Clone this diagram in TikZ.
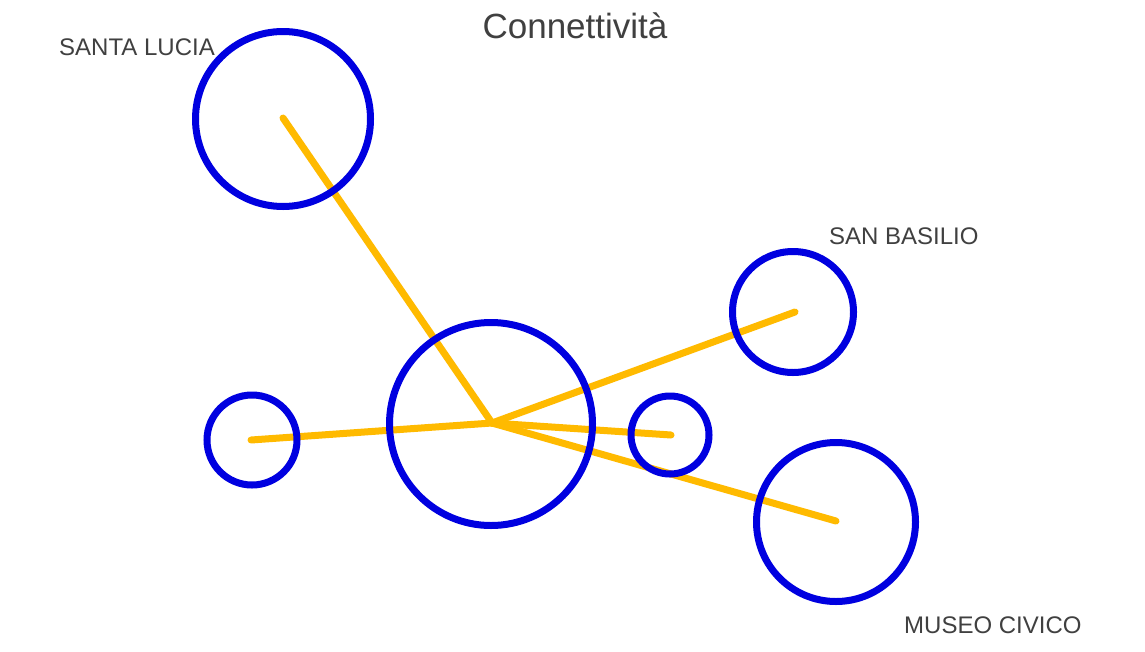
\documentclass[tikz,border=0pt]{standalone}
\usepackage{fontspec}
\setmainfont{Liberation Sans}
\definecolor{edgeor}{HTML}{FFBA00}
\definecolor{nodebl}{HTML}{0000E0}
\definecolor{txtgr}{HTML}{404040}
\begin{document}
\begin{tikzpicture}[x=1pt,y=-1pt,
  link/.style={draw=edgeor,line width=7pt,line cap=round},
  ring/.style={circle,draw=nodebl,line width=7pt,inner sep=0pt},
  lbl/.style={text=txtgr,font=\fontsize{24}{27}\selectfont,inner sep=0pt}]
\useasboundingbox[fill=white] (0,0) rectangle (1145,651);
% centres
\coordinate (hub) at (492,423);
\coordinate (cSL) at (283,118);
\coordinate (cL) at (251,440);
\coordinate (cR) at (671,435);
\coordinate (cSB) at (795,312);
\coordinate (cMC) at (836,521);
% edges
\draw[link] (hub) -- (cSL);
\draw[link] (hub) -- (cL);
\draw[link] (hub) -- (cR);
\draw[link] (hub) -- (cSB);
\draw[link] (hub) -- (cMC);
% circles
\node[ring,minimum size=175pt] (nSL) at (283,119) {};
\node[ring,minimum size=203pt] (nH) at (491,424) {};
\node[ring,minimum size=90pt] (nL) at (252,440) {};
\node[ring,minimum size=78pt] (nR) at (670,435) {};
\node[ring,minimum size=121pt] (nSB) at (793,312) {};
\node[ring,minimum size=159pt] (nMC) at (836,522) {};
% labels
\node[lbl,anchor=west] (tSL) at (59,47) {SANTA LUCIA};
\node[lbl,anchor=west] (tSB) at (829,236) {SAN BASILIO};
\node[lbl,anchor=west] (tMC) at (904,625) {MUSEO CIVICO};
\node[text=txtgr,font=\fontsize{35}{40}\selectfont,inner sep=0pt,anchor=base] (title) at (575,38) {Connettività};
\end{tikzpicture}
\end{document}
